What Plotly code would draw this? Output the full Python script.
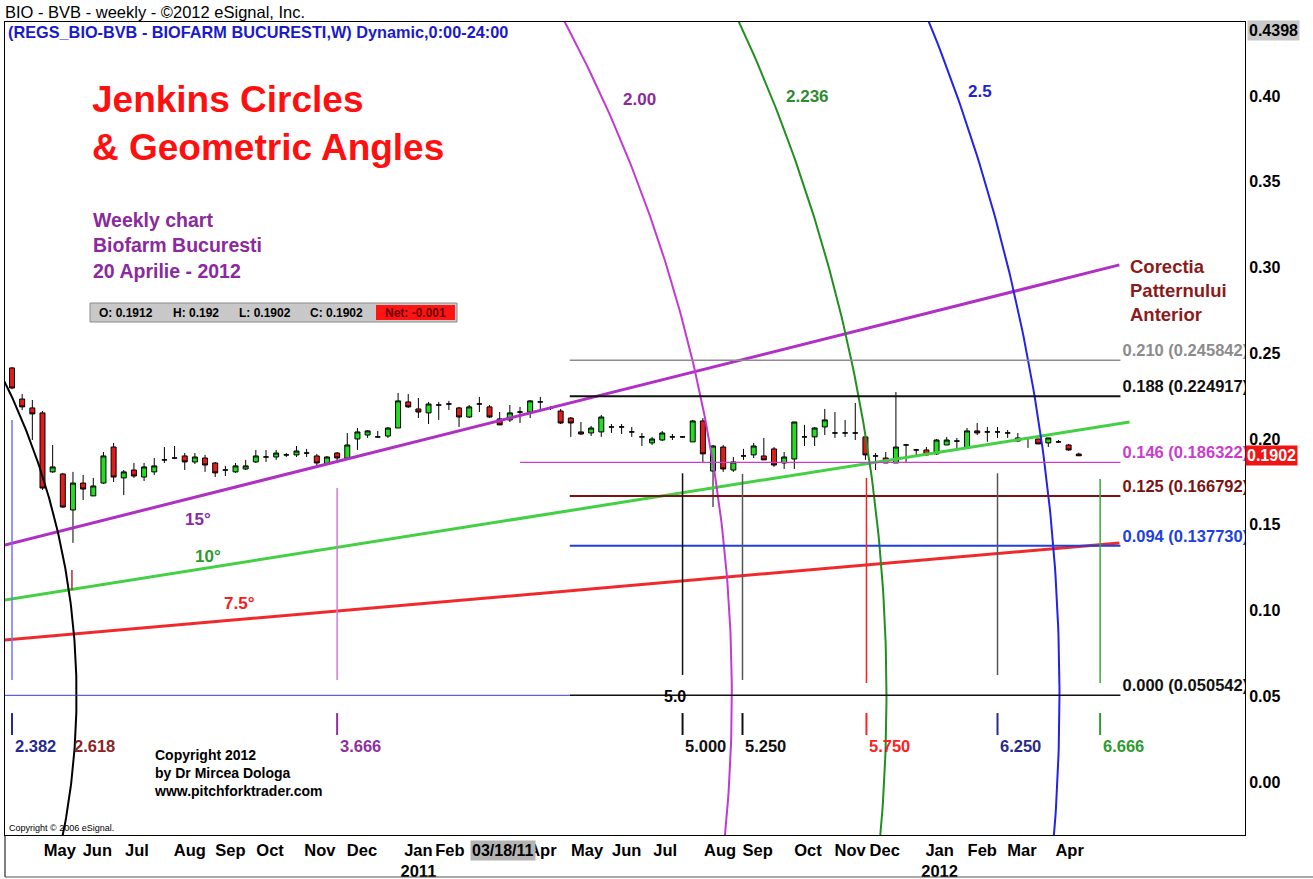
"""Biofarm Bucuresti weekly chart with Jenkins circles, angle lines and fib levels."""
import numpy as np
import plotly.graph_objects as go

FONT = "Arial, 'Liberation Sans', sans-serif"

# ---- weekly candles (bar 0 = mid April 2010, last bar = 20 Apr 2012) ----
opens = [0.2414, 0.2233, 0.2181, 0.2152, 0.1808, 0.1796, 0.1586, 0.1743, 0.1668, 0.1743,
         0.1953, 0.1773, 0.1819, 0.1778, 0.1808, 0.1878, 0.1889, 0.1901, 0.1866, 0.1889,
         0.1860, 0.1819, 0.1808, 0.1825, 0.1866, 0.1895, 0.1895, 0.1907, 0.1907, 0.1918,
         0.1901, 0.1854, 0.1918, 0.1889, 0.2000, 0.2023, 0.2012, 0.2017, 0.2064, 0.2216,
         0.2175, 0.2152, 0.2198, 0.2204, 0.2181, 0.2128, 0.2204, 0.2187, 0.2117, 0.2111,
         0.2157, 0.2157, 0.2216, 0.2181, 0.2163, 0.2122, 0.2041, 0.2035, 0.2041, 0.2070,
         0.2070, 0.2041, 0.2012, 0.1977, 0.1994, 0.2012, 0.2012, 0.1983, 0.2105, 0.1813,
         0.1953, 0.1819, 0.1901, 0.1907, 0.1901, 0.1942, 0.1860, 0.1883, 0.2012, 0.2012,
         0.2070, 0.2035, 0.2035, 0.2035, 0.2012, 0.1901, 0.1889, 0.1860, 0.1965, 0.1936,
         0.1936, 0.1913, 0.1965, 0.1988, 0.1948, 0.2047, 0.2041, 0.2041, 0.2035, 0.2006,
         0.2006, 0.2000, 0.1977, 0.1983, 0.1965, 0.1912]
highs = [0.2420, 0.2262, 0.2227, 0.2163, 0.1965, 0.1802, 0.1808, 0.1790, 0.1773, 0.1924,
         0.1977, 0.1819, 0.1860, 0.1860, 0.1889, 0.1953, 0.1959, 0.1918, 0.1918, 0.1907,
         0.1866, 0.1843, 0.1860, 0.1878, 0.1936, 0.1936, 0.1936, 0.1918, 0.1959, 0.1942,
         0.1913, 0.1901, 0.1924, 0.2035, 0.2064, 0.2052, 0.2047, 0.2070, 0.2268, 0.2262,
         0.2239, 0.2216, 0.2216, 0.2222, 0.2187, 0.2198, 0.2245, 0.2198, 0.2157, 0.2198,
         0.2187, 0.2227, 0.2245, 0.2192, 0.2175, 0.2128, 0.2099, 0.2076, 0.2140, 0.2087,
         0.2087, 0.2070, 0.2035, 0.2012, 0.2047, 0.2029, 0.2017, 0.2111, 0.2122, 0.1965,
         0.1965, 0.1895, 0.1942, 0.1977, 0.2006, 0.1953, 0.1924, 0.2099, 0.2082, 0.2070,
         0.2175, 0.2157, 0.2111, 0.2210, 0.2012, 0.1918, 0.1924, 0.2274, 0.1971, 0.1942,
         0.1953, 0.2000, 0.2012, 0.2006, 0.2064, 0.2093, 0.2070, 0.2070, 0.2052, 0.2035,
         0.2006, 0.2000, 0.2006, 0.1994, 0.1971, 0.1920]
lows = [0.2290, 0.2169, 0.1994, 0.1703, 0.1802, 0.1598, 0.1394, 0.1644, 0.1668, 0.1738,
        0.1749, 0.1673, 0.1773, 0.1755, 0.1790, 0.1860, 0.1883, 0.1819, 0.1854, 0.1808,
        0.1778, 0.1784, 0.1802, 0.1819, 0.1860, 0.1866, 0.1878, 0.1895, 0.1895, 0.1895,
        0.1848, 0.1848, 0.1860, 0.1878, 0.1936, 0.2006, 0.2006, 0.2006, 0.2064, 0.2181,
        0.2122, 0.2087, 0.2111, 0.2169, 0.2070, 0.2122, 0.2157, 0.2122, 0.2082, 0.2099,
        0.2093, 0.2122, 0.2169, 0.2169, 0.2087, 0.2012, 0.2023, 0.2017, 0.2012, 0.2035,
        0.2029, 0.2012, 0.1959, 0.1965, 0.1988, 0.1994, 0.2006, 0.1983, 0.1860, 0.1603,
        0.1808, 0.1808, 0.1878, 0.1889, 0.1878, 0.1837, 0.1825, 0.1825, 0.1959, 0.1959,
        0.2023, 0.2006, 0.2012, 0.1994, 0.1878, 0.1819, 0.1860, 0.1860, 0.1866, 0.1895,
        0.1901, 0.1907, 0.1965, 0.1936, 0.1942, 0.2023, 0.1983, 0.2006, 0.2006, 0.1983,
        0.1948, 0.1971, 0.1953, 0.1977, 0.1930, 0.1902]
closes = [0.2297, 0.2187, 0.2146, 0.1714, 0.1837, 0.1603, 0.1743, 0.1708, 0.1726, 0.1901,
          0.1778, 0.1808, 0.1784, 0.1837, 0.1843, 0.1878, 0.1889, 0.1866, 0.1895, 0.1848,
          0.1802, 0.1819, 0.1843, 0.1843, 0.1901, 0.1895, 0.1918, 0.1907, 0.1930, 0.1918,
          0.1860, 0.1895, 0.1889, 0.1965, 0.2041, 0.2047, 0.2012, 0.2064, 0.2222, 0.2187,
          0.2157, 0.2204, 0.2198, 0.2204, 0.2128, 0.2187, 0.2204, 0.2128, 0.2082, 0.2152,
          0.2157, 0.2222, 0.2216, 0.2181, 0.2093, 0.2093, 0.2029, 0.2064, 0.2128, 0.2070,
          0.2070, 0.2041, 0.2012, 0.2000, 0.2035, 0.2012, 0.2012, 0.2105, 0.1913, 0.1959,
          0.1825, 0.1866, 0.1901, 0.1959, 0.1878, 0.1848, 0.1895, 0.2099, 0.2012, 0.2064,
          0.2111, 0.2035, 0.2035, 0.2035, 0.1907, 0.1901, 0.1860, 0.1953, 0.1965, 0.1936,
          0.1907, 0.1994, 0.1994, 0.1988, 0.2047, 0.2035, 0.2041, 0.2041, 0.2035, 0.1988,
          0.2006, 0.1971, 0.2006, 0.1983, 0.1936, 0.1902]
weeks = list(range(len(opens)))

# time axis labels (bar index where the month name is printed)
month_pos = [4.7, 8.4, 12.3, 17.5, 21.5, 25.4, 30.3, 34.45, 40.0, 43.1, 47.5, 52.2,
             56.6, 60.5, 64.3, 69.7, 73.4, 78.35, 82.5, 85.9, 91.3, 95.5, 99.4, 104.1]
month_text = ["May", "Jun", "Jul", "Aug", "Sep", "Oct", "Nov", "Dec", "Jan<br>2011", "Feb",
              "Mar", "Apr", "May", "Jun", "Jul", "Aug", "Sep", "Oct", "Nov", "Dec",
              "Jan<br>2012", "Feb", "Mar", "Apr"]
price_ticks = [0.00, 0.05, 0.10, 0.15, 0.20, 0.25, 0.30, 0.35, 0.40]

# fibonacci levels of the previous pattern
fib_ratio = ["0.210", "0.188", "0.146", "0.125", "0.094", "0.000"]
fib_price = [0.245842, 0.224917, 0.186322, 0.166792, 0.137730, 0.050542]
fib_start = [54.9, 54.9, 50.0, 54.9, 54.9, 54.9]
fib_end = 109.1
fib_color = ["#8c8c8c", "#111111", "#cc3ccc", "#7a1414", "#1f3fe0", "#111111"]
fib_width = [1.5, 2, 1.2, 2, 2, 1.5]

# geometric angles (start / end bar and price)
angle_label = ["15°", "10°", "7.5°"]
angle_x0 = [-0.7, -0.7, -0.7]
angle_y0 = [0.1382, 0.1061, 0.0828]
angle_x1 = [109.0, 110.0, 109.0]
angle_y1 = [0.3015, 0.2099, 0.1394]
angle_color = ["#b02fc4", "#44d044", "#f02a2a"]
angle_text_color = ["#8a2a9e", "#2e9a2e", "#f02020"]
angle_label_x = [18.3, 19.3, 22.4]
angle_label_y = [0.1528, 0.1312, 0.1038]

# Jenkins circles: centre (bar, price), unit radii (bars, price), ratios
circle_cx, circle_cy = -58.15, 0.050542
circle_rx, circle_ry = 64.5, 0.4017
circle_ratio = [1.0, 2.0, 2.236, 2.5]
circle_label = ["", "2.00", "2.236", "2.5"]
circle_color = ["#000000", "#c23ad4", "#1f8f1f", "#2222e8"]
circle_text_color = ["#000000", "#8a2a9e", "#2e8b2e", "#2222cc"]
circle_label_x = [0, 61.8, 78.3, 95.3]
circle_label_y = [0, 0.3977, 0.3994, 0.4023]

# time cycle markers
cycle_x = [0.0, 5.9, 32.0, 66.0, 71.9, 84.1, 97.0, 107.1]
cycle_text = ["2.382", "2.618", "3.666", "5.000", "5.250", "5.750", "6.250", "6.666"]
cycle_top = [0.211, 0.1236, 0.1714, 0.180, 0.1796, 0.1773, 0.180, 0.1767]
cycle_bottom = [0.0595, 0.112, 0.0595, 0.0624, 0.0595, 0.0577, 0.0624, 0.0577]
cycle_line_color = ["#7474ee", "#b03030", "#d47ad4", "#111111", "#555555", "#ff2020", "#555555", "#3aa83a"]
cycle_text_color = ["#2a2a8c", "#8b2323", "#9030a0", "#111111", "#111111", "#ff2020", "#2a2a8c", "#2f9a2f"]
cycle_tick = [True, False, True, True, True, True, True, True]


def px(x):
    return (x - 5) / 1240


def py(y):
    return 1 - (y - 22) / 813


fig = go.Figure()
fig.add_trace(go.Candlestick(
    x=weeks, open=opens, high=highs, low=lows, close=closes,
    increasing=dict(line=dict(color="black", width=1), fillcolor="#22dd22"),
    decreasing=dict(line=dict(color="black", width=1), fillcolor="#e41b1b"),
    whiskerwidth=0, hoverinfo="skip",
))

shapes = []
annotations = []

# fib levels
for lvl, p, x0, col, w in zip(fib_ratio, fib_price, fib_start, fib_color, fib_width):
    shapes.append(dict(type="line", xref="x", yref="y", x0=x0, x1=fib_end, y0=p, y1=p,
                       line=dict(color=col, width=w)))
shapes.append(dict(type="line", xref="x", yref="y", x0=-1, x1=fib_start[-1],
                   y0=fib_price[-1], y1=fib_price[-1], line=dict(color="#3a3ad0", width=1)))
fig.add_trace(go.Scatter(
    x=[fib_end + 0.2] * len(fib_price), y=fib_price, mode="text",
    text=[f"{r} ({p:.6f})" for r, p in zip(fib_ratio, fib_price)],
    textposition="top right", cliponaxis=True, hoverinfo="skip",
    textfont=dict(size=16.5, color=fib_color, family=FONT, weight="bold"),
))

# angle lines
for i in range(len(angle_label)):
    fig.add_trace(go.Scatter(x=[angle_x0[i], angle_x1[i]], y=[angle_y0[i], angle_y1[i]],
                             mode="lines", line=dict(color=angle_color[i], width=3),
                             hoverinfo="skip"))
    annotations.append(dict(x=angle_label_x[i], y=angle_label_y[i], xref="x", yref="y",
                            text=f"<b>{angle_label[i]}</b>", showarrow=False,
                            font=dict(size=17, color=angle_text_color[i])))

# Jenkins circles
theta = np.linspace(-np.pi / 2, np.pi / 2, 721)
for k, col, lab, tc, lx, ly in zip(circle_ratio, circle_color, circle_label,
                                   circle_text_color, circle_label_x, circle_label_y):
    fig.add_trace(go.Scatter(x=circle_cx + k * circle_rx * np.cos(theta),
                             y=circle_cy + k * circle_ry * np.sin(theta),
                             mode="lines", line=dict(color=col, width=2), hoverinfo="skip"))
    if lab:
        annotations.append(dict(x=lx, y=ly, xref="x", yref="y", text=f"<b>{lab}</b>",
                                showarrow=False, font=dict(size=17, color=tc)))

# time cycles
for x, lab, top, bot, lc, tc, tick in zip(cycle_x, cycle_text, cycle_top, cycle_bottom,
                                          cycle_line_color, cycle_text_color, cycle_tick):
    shapes.append(dict(type="line", xref="x", yref="y", x0=x, x1=x, y0=bot, y1=top,
                       line=dict(color=lc, width=1.5)))
    if tick:
        shapes.append(dict(type="line", xref="x", yref="y", x0=x, x1=x, y0=0.0274, y1=0.0402,
                           line=dict(color=tc, width=2)))
    annotations.append(dict(x=x + 0.05, y=0.0274, xref="x", yref="y", xanchor="left",
                            yanchor="top", text=f"<b>{lab}</b>", showarrow=False,
                            font=dict(size=16.5, color=tc)))
annotations.append(dict(x=65.3, y=0.0496, xref="x", yref="y", text="<b>5.0</b>",
                        showarrow=False, font=dict(size=16, color="black")))

# static texts
annotations += [
    dict(x=px(3), y=py(12), text="BIO - BVB - weekly - ©2012 eSignal, Inc.",
         xanchor="left", font=dict(size=16.5, color="black")),
    dict(x=px(6), y=py(32), text="<b>(REGS_BIO-BVB - BIOFARM BUCURESTI,W) Dynamic,0:00-24:00</b>",
         xanchor="left", font=dict(size=16.3, color="#1a1acc")),
    dict(x=px(90), y=py(124), text="<b>Jenkins Circles<br>& Geometric Angles</b>",
         xanchor="left", align="left", font=dict(size=37, color="#ff1010")),
    dict(x=px(91), y=py(245), text="<b>Weekly chart<br>Biofarm Bucuresti<br>20 Aprilie - 2012</b>",
         xanchor="left", align="left", font=dict(size=19.5, color="#8a2a9e")),
    dict(x=px(1128), y=py(291), text="<b>Corectia<br>Patternului<br>Anterior</b>",
         xanchor="left", align="left", font=dict(size=18.5, color="#8b1a1a")),
    dict(x=px(152), y=py(773), text="<b>Copyright 2012<br>by Dr Mircea Dologa<br>www.pitchforktrader.com</b>",
         xanchor="left", align="left", font=dict(size=14, color="black")),
    dict(x=px(7), y=py(828), text="Copyright © 2006 eSignal.", xanchor="left",
         font=dict(size=9, color="black")),
    dict(x=px(1247), y=py(31), text="<b>0.4398</b>", xanchor="left", bgcolor="#c8c8c8",
         borderpad=1, font=dict(size=16, color="black")),
    dict(x=px(1245), y=py(455), text="<b>0.1902</b>", xanchor="left", bgcolor="#f01414",
         borderpad=1, font=dict(size=16, color="white")),
    dict(x=px(503), y=py(850), text="<b>03/18/11</b>", bgcolor="#b4b4b4", borderpad=1,
         font=dict(size=16, color="black")),
]

# OHLC info box
shapes += [
    dict(type="rect", xref="paper", yref="paper", x0=px(90), x1=px(457), y0=py(322), y1=py(303),
         fillcolor="#c8c8c8", line=dict(color="#8a8a8a", width=1)),
    dict(type="rect", xref="paper", yref="paper", x0=px(376), x1=px(455), y0=py(320), y1=py(305),
         fillcolor="#ff1414", line=dict(width=0)),
    dict(type="line", xref="paper", yref="paper", x0=px(5), x1=px(5), y0=py(835), y1=py(877),
         line=dict(color="black", width=1)),
    dict(type="line", xref="paper", yref="paper", x0=px(5), x1=px(1313), y0=py(877), y1=py(877),
         line=dict(color="#555555", width=1)),
]
for xx, t, c in [(97, "O: 0.1912", "black"), (171, "H: 0.192", "black"),
                 (237, "L: 0.1902", "black"), (308, "C: 0.1902", "black"),
                 (383, "Net: -0.001", "#6a0000")]:
    annotations.append(dict(x=px(xx), y=py(313), text=f"<b>{t}</b>", xanchor="left",
                            font=dict(size=12, color=c)))

for a in annotations:
    a.setdefault("xref", "paper")
    a.setdefault("yref", "paper")
    a.setdefault("showarrow", False)
    a.setdefault("yanchor", "middle")

fig.update_layout(
    width=1313, height=879,
    margin=dict(l=5, r=68, t=22, b=44, autoexpand=False),
    paper_bgcolor="white", plot_bgcolor="white",
    showlegend=False,
    font=dict(family=FONT, color="black"),
    shapes=shapes, annotations=annotations,
    xaxis=dict(range=[-0.69, 121.36], tickvals=month_pos, ticktext=month_text,
               tickangle=0, automargin=False,
               tickfont=dict(size=16.5, weight="bold"), showgrid=False, zeroline=False,
               showline=True, linecolor="black", mirror=True, ticks="",
               rangeslider=dict(visible=False)),
    yaxis=dict(side="right", range=[-0.0309, 0.4431], tickvals=price_ticks,
               ticktext=[f"{v:.2f}" for v in price_ticks], automargin=False,
               tickfont=dict(size=16, weight="bold"), showgrid=False, zeroline=False,
               showline=True, linecolor="black", mirror=True, ticks=""),
)

# the browser's default 8px body margin would shift the whole figure
fig.write_html("out.html", config={"displayModeBar": False},
               post_script="document.body.style.margin='0';"
                           "document.body.style.overflow='hidden';")
